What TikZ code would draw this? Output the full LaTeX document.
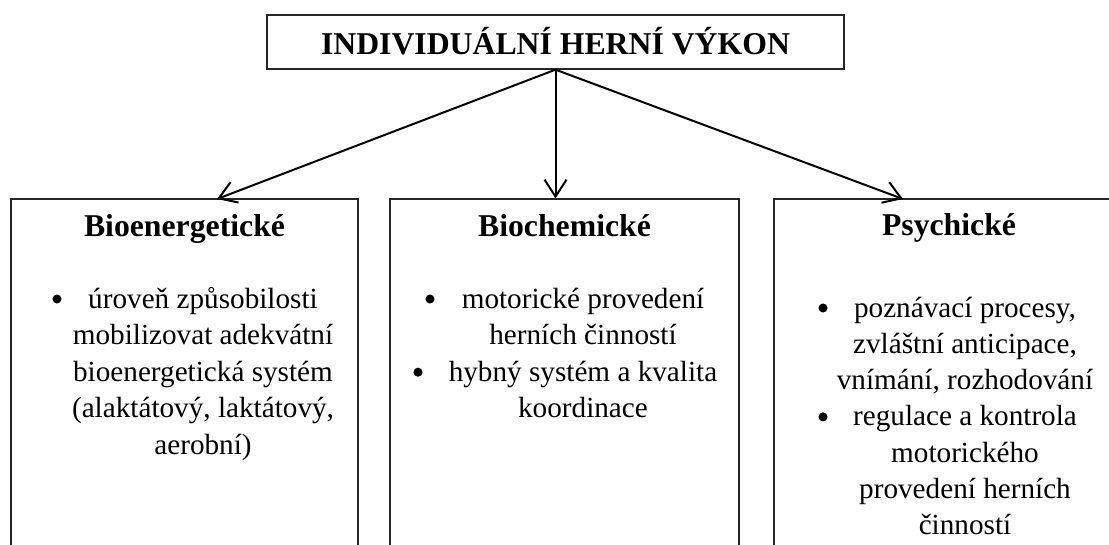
\documentclass[tikz,border=0pt]{standalone}
\usepackage{fontspec}
\setmainfont{Liberation Serif}
\usetikzlibrary{arrows.meta,fit}
\begin{document}
\begin{tikzpicture}[x=0.75pt,y=-0.75pt,
  panel/.style={draw=black!85, line width=0.8pt, inner sep=0pt},
  titletext/.style={font=\fontsize{23.8}{28}\selectfont\bfseries, anchor=base, inner sep=0pt},
  head/.style={font=\fontsize{23.8}{28}\selectfont\bfseries, anchor=base, inner sep=0pt},
  item/.style={font=\fontsize{21.9}{26}\selectfont, anchor=base, inner sep=0pt},
  dot/.style={circle, fill=black, inner sep=0pt, minimum size=6.8pt},
  link/.style={line width=1.5pt, -{Straight Barb[length=12.75pt, width=16.5pt]}}]
\useasboundingbox (0,0) rectangle (1109,545);
\clip (0,0) rectangle (1109,545);

% headline box
\node[panel, line width=1pt, minimum width=577*0.75pt, minimum height=54*0.75pt] (title) at (555.5,42) {};
\node[titletext] (titleText) at (555.5,55) {INDIVIDUÁLNÍ HERNÍ VÝKON};

% three category panels (open towards the bottom of the page)
\node[panel, fit={(11,199) (358,570)}] (bio) {};
\node[panel, fit={(390,199) (739,570)}] (chem) {};
\node[panel, fit={(774,199) (1123,570)}] (psy) {};

% connectors
\coordinate (tipL) at (217,199);
\coordinate (tipR) at (903,199);
\draw[link] (title.south) -- (tipL);
\draw[link] (title.south) -- (title.south |- chem.north);
\draw[link] (title.south) -- (tipR);

% Bioenergetické
\node[head] (bioHead) at (184.5,237) {Bioenergetické};
\node[dot] (bioDot) at (57,299) {};
\node[item] (bioA) at (203,308) {úroveň způsobilosti};
\node[item] (bioB) at (203,344.6) {mobilizovat adekvátní};
\node[item] (bioC) at (203,381.2) {bioenergetická systém};
\node[item] (bioD) at (203,417.8) {(alaktátový, laktátový,};
\node[item] (bioE) at (203,454.4) {aerobní)};

% Biochemické
\node[head] (chemHead) at (564.5,237) {Biochemické};
\node[dot] (chemDotA) at (430,299) {};
\node[item] (chemA) at (583,308) {motorické provedení};
\node[item] (chemB) at (583,344.6) {herních činností};
\node[dot] (chemDotB) at (418,372.2) {};
\node[item] (chemC) at (583,381.2) {hybný systém a kvalita};
\node[item] (chemD) at (583,417.8) {koordinace};

% Psychické
\node[head] (psyHead) at (949,236) {Psychické};
\node[dot] (psyDotA) at (823,308) {};
\node[item] (psyA) at (965,317) {poznávací procesy,};
\node[item] (psyB) at (965,353.3) {zvláštní anticipace,};
\node[item] (psyC) at (965,389.6) {vnímání, rozhodování};
\node[dot] (psyDotB) at (823,416.9) {};
\node[item] (psyD) at (965,425.9) {regulace a kontrola};
\node[item] (psyE) at (965,462.2) {motorického};
\node[item] (psyF) at (965,498.5) {provedení herních};
\node[item] (psyG) at (965,534.8) {činností};
\end{tikzpicture}
\end{document}
